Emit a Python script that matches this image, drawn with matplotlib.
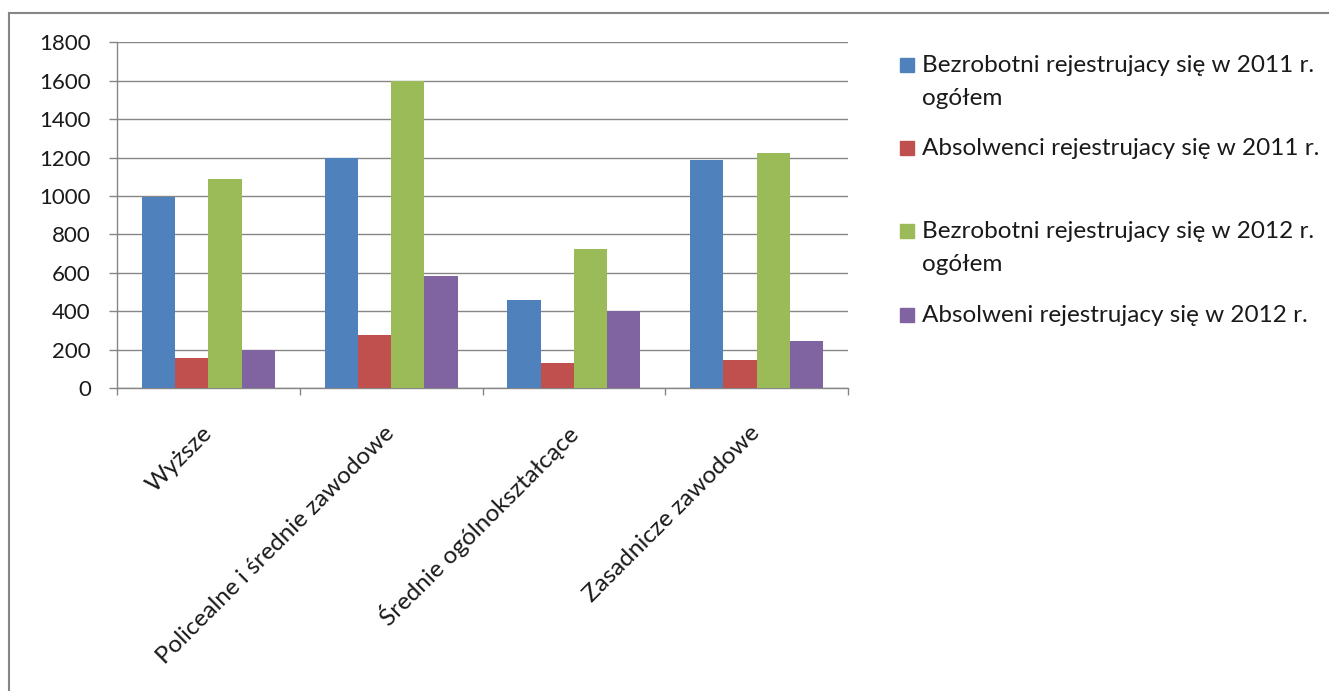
import matplotlib
matplotlib.use('Agg')
import matplotlib.pyplot as plt
from matplotlib.patches import Rectangle
from matplotlib.lines import Line2D
import numpy as np

plt.rcParams['font.family'] = ['Lato', 'DejaVu Sans']

# Data
categories = ['Wyższe', 'Policealne i średnie zawodowe',
              'Średnie ogólnokształcące', 'Zasadnicze zawodowe']
series_labels = ['Bezrobotni rejestrujacy się w 2011 r.\nogółem',
                 'Absolwenci rejestrujacy się w 2011 r.',
                 'Bezrobotni rejestrujacy się w 2012 r.\nogółem',
                 'Absolweni rejestrujacy się w 2012 r.']
bezrobotni_2011 = [995, 1200, 460, 1186]
absolwenci_2011 = [156, 278, 132, 146]
bezrobotni_2012 = [1087, 1600, 725, 1226]
absolwenci_2012 = [200, 581, 403, 243]
y_ticks = list(range(0, 2000, 200))

series = [bezrobotni_2011, absolwenci_2011, bezrobotni_2012, absolwenci_2012]
colors = ['#4F81BD', '#C0504D', '#9BBB59', '#8064A2']
gray = '#868686'
text_color = '#1a1a1a'

W, H = 1329, 691
fig = plt.figure(figsize=(W / 100, H / 100), dpi=100)
ax = fig.add_axes([117 / W, 1 - 388 / H, (848 - 117) / W, (388 - 42.3) / H])

x = np.arange(len(categories))
w = 1 / 5.5
for i, (vals, col) in enumerate(zip(series, colors)):
    ax.bar(x + (i - 1.5) * w, vals, width=w, color=col, zorder=3)

ax.set_xlim(-0.5, len(categories) - 0.5)
ax.set_ylim(0, 1800)
ax.set_yticks(y_ticks)
ax.grid(axis='y', color=gray, lw=1.0, zorder=0)
ax.set_axisbelow(True)

for s in ['top', 'right']:
    ax.spines[s].set_visible(False)
for s in ['left', 'bottom']:
    ax.spines[s].set_color(gray)
    ax.spines[s].set_linewidth(1.0)

ax.tick_params(axis='y', direction='out', length=5.8, width=1.0, color=gray,
               pad=13, labelsize=16, labelcolor=text_color)

# category boundaries as major ticks, labels on minor ticks at centres
ax.set_xticks(np.arange(len(categories) + 1) - 0.5)
ax.set_xticklabels([])
ax.set_xticks(x, minor=True)
ax.set_xticklabels(categories, minor=True, rotation=45, ha='right',
                   va='center', rotation_mode='anchor', fontsize=17.5,
                   color=text_color)
ax.tick_params(axis='x', which='major', direction='out', length=5, width=1.0,
               color=gray)
ax.tick_params(axis='x', which='minor', length=0, pad=30)

# legend, drawn by hand so entries sit on even slots
for i, (lbl, col) in enumerate(zip(series_labels, colors)):
    yb = 72.3 + i * 83.1
    fig.add_artist(Rectangle((900 / W, 1 - yb / H), 14 / W, 14 / H,
                             transform=fig.transFigure, color=col))
    for j, line in enumerate(lbl.split('\n')):
        fig.text(922 / W, 1 - (yb + j * 32.7) / H, line, ha='left',
                 va='baseline', fontsize=17.5, color=text_color)

# chart frame
fig.add_artist(Line2D([8.5 / W, 8.5 / W], [0, 1 - 13.3 / H],
                      transform=fig.transFigure, color=gray, lw=1.5))
fig.add_artist(Line2D([8.5 / W, 1], [1 - 13.3 / H, 1 - 13.3 / H],
                      transform=fig.transFigure, color=gray, lw=1.5))

fig.savefig('out.png', dpi=100)
